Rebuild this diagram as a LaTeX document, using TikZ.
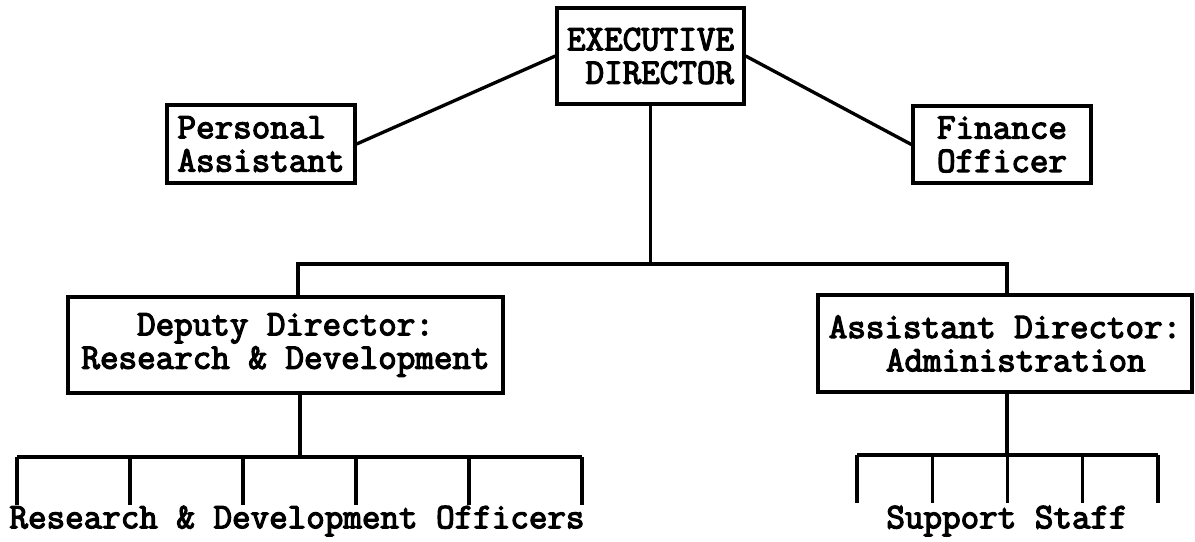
\documentclass[tikz,border=0pt]{standalone}
\usepackage{fontspec}
\newfontfamily\orgfont{Latin Modern Mono}[FakeBold=3.5]
\usepackage{tikz}
\usetikzlibrary{calc}

\begin{document}
\begin{tikzpicture}[x=0.02cm, y=-0.02cm, line width=1.9pt,
    every node/.style={font=\orgfont\fontsize{20.5}{19}\selectfont},
    box/.style={draw, line width=1.9pt, inner sep=2pt}]
  \useasboundingbox (0,0) rectangle (1195,541);
  % top row: director with assistant and finance either side
  \node[box, align=right, minimum width=3.74cm, minimum height=1.92cm] (exec) at (650.5,56) {EXECUTIVE\\DIRECTOR};
  \node[box, align=left, minimum width=3.76cm, minimum height=1.56cm] (pa) at (261,144) {Personal\\Assistant};
  \node[box, align=center, minimum width=3.56cm, minimum height=1.54cm] (fin) at (1002,144.5) {Finance\\Officer};
  \draw (exec.west) -- (pa.east);
  \draw (exec.east) -- (fin.west);
  % second row
  \node[box, align=center, minimum width=8.7cm, minimum height=1.92cm] (dep) at (285.5,345) {Deputy Director:\\Research \& Development};
  \node[box, align=center, minimum width=7.48cm, minimum height=1.94cm] (asst) at (1005,343.5) {Assistant Director:\\\hspace*{0.6em}Administration};
  \coordinate (dl) at (298,264);
  \coordinate (ar) at (1007,264);
  \draw (exec.south) -- (exec.south |- dl);
  \draw (dl |- dep.north) -- (dl) -- (ar) -- (ar |- asst.north);
  % staff under each branch
  \coordinate (rdL) at (17,457);
  \coordinate (rdR) at (582,457);
  \draw (300,0 |- dep.south) -- (300,457);
  \draw (rdL) -- (rdR);
  \foreach \i in {0,...,5}
    \draw ($(rdL)!\i/5!(rdR)$) -- ++(0,48);
  \node (rdo) at (297,521) {Research \& Development Officers};
  \coordinate (ssL) at (857,455);
  \coordinate (ssR) at (1158,455);
  \draw (asst.south -| ar) -- (ar |- ssL);
  \draw (ssL) -- (ssR);
  \foreach \i in {0,...,4}
    \draw ($(ssL)!\i/4!(ssR)$) -- ++(0,48);
  \node (staff) at (1007,521) {Support Staff};
\end{tikzpicture}
\end{document}
